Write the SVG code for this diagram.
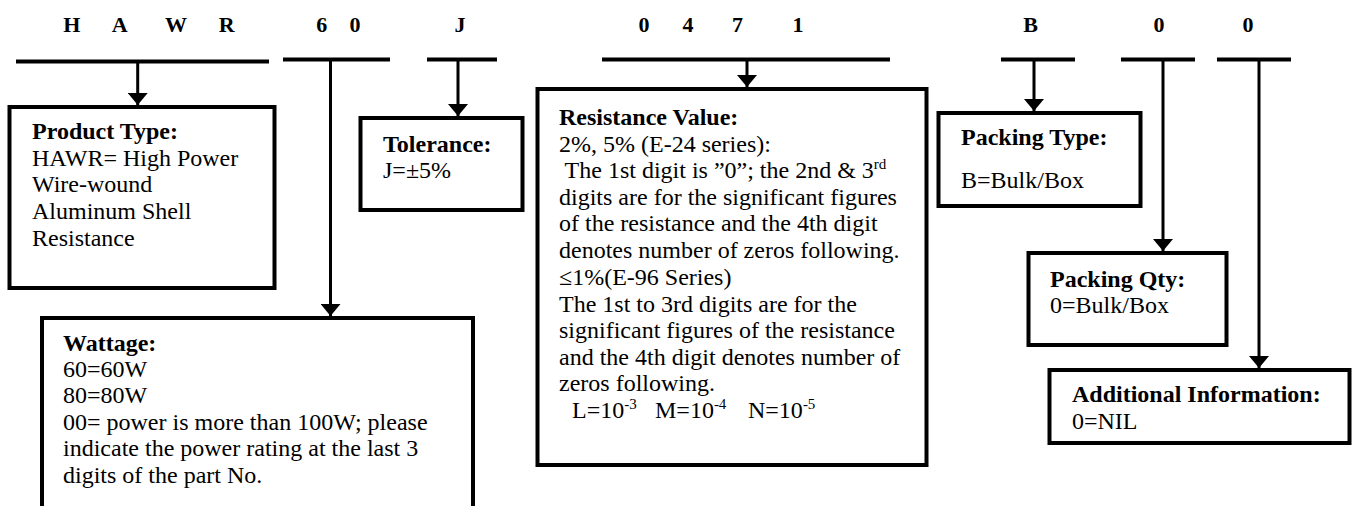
<svg xmlns="http://www.w3.org/2000/svg" width="1354" height="506" viewBox="0 0 1354 506">
<style>
text{font-family:"Liberation Serif","Times New Roman",serif;fill:#000;}
.lbl{font-size:22px;font-weight:bold;text-anchor:middle;}
.t{font-size:24px;}
.b{font-weight:bold;}
.sup{font-size:15px;}
.box{fill:#fff;stroke:#000;stroke-width:4;}
.bar{stroke:#000;stroke-width:4;fill:none;}
.wire{stroke:#000;stroke-width:3;fill:none;marker-end:url(#ah);}
</style>
<defs>
<marker id="ah" markerUnits="userSpaceOnUse" viewBox="0 0 12 20" refX="12" refY="10" markerWidth="12" markerHeight="20" orient="auto">
<path d="M0,0 L12,10 L0,20 z" fill="#000"/>
</marker>
</defs>
<rect width="1354" height="506" fill="#fff"/>
<g id="code-labels">
<text class="lbl" x="71.7" y="31.5">H</text>
<text class="lbl" x="119.7" y="31.5">A</text>
<text class="lbl" x="176" y="31.5">W</text>
<text class="lbl" x="226.7" y="31.5">R</text>
<text class="lbl" x="321.7" y="31.5">6</text>
<text class="lbl" x="355" y="31.5">0</text>
<text class="lbl" x="460" y="31.5">J</text>
<text class="lbl" x="644" y="31.5">0</text>
<text class="lbl" x="688" y="31.5">4</text>
<text class="lbl" x="737.5" y="31.5">7</text>
<text class="lbl" x="798" y="31.5">1</text>
<text class="lbl" x="1030.5" y="31.5">B</text>
<text class="lbl" x="1159" y="31.5">0</text>
<text class="lbl" x="1248" y="31.5">0</text>
</g>
<g id="bars">
<line class="bar" x1="16" y1="61.5" x2="269" y2="61.5"/>
<line class="bar" x1="283" y1="59.5" x2="390" y2="59.5"/>
<line class="bar" x1="427" y1="59.5" x2="497" y2="59.5"/>
<line class="bar" x1="602" y1="59.5" x2="890" y2="59.5"/>
<line class="bar" x1="1001" y1="59.5" x2="1075" y2="59.5"/>
<line class="bar" x1="1121" y1="59.5" x2="1195" y2="59.5"/>
<line class="bar" x1="1217" y1="59.5" x2="1291" y2="59.5"/>
</g>
<g id="product-type">
<rect class="box" x="9.5" y="107" width="265" height="181"/>
<text class="t b" x="32" y="139">Product Type:</text>
<text class="t" x="32" y="166">HAWR= High Power</text>
<text class="t" x="32" y="192">Wire-wound</text>
<text class="t" x="32" y="219">Aluminum Shell</text>
<text class="t" x="32" y="246">Resistance</text>
</g>
<g id="wattage">
<rect class="box" x="42" y="318" width="431" height="220"/>
<text class="t b" x="63" y="351">Wattage:</text>
<text class="t" x="63" y="377">60=60W</text>
<text class="t" x="63" y="403">80=80W</text>
<text class="t" x="63" y="430">00= power is more than 100W; please</text>
<text class="t" x="63" y="456">indicate the power rating at the last 3</text>
<text class="t" x="63" y="483">digits of the part No.</text>
</g>
<g id="tolerance">
<rect class="box" x="360.5" y="118" width="162" height="92"/>
<text class="t b" x="383" y="152">Tolerance:</text>
<text class="t" x="383" y="178">J=±5%</text>
</g>
<g id="resistance-value">
<rect class="box" x="537.5" y="89" width="389" height="376"/>
<text class="t b" x="559" y="125">Resistance Value:</text>
<text class="t" x="559" y="152">2%, 5% (E-24 series):</text>
<text class="t" x="559" y="178" xml:space="preserve"> The 1st digit is ”0”; the 2nd &amp; 3<tspan class="sup" dy="-9">rd</tspan></text>
<text class="t" x="559" y="205">digits are for the significant figures</text>
<text class="t" x="559" y="231">of the resistance and the 4th digit</text>
<text class="t" x="559" y="258">denotes number of zeros following.</text>
<text class="t" x="559" y="285">≤1%(E-96 Series)</text>
<text class="t" x="559" y="312">The 1st to 3rd digits are for the</text>
<text class="t" x="559" y="338">significant figures of the resistance</text>
<text class="t" x="559" y="365">and the 4th digit denotes number of</text>
<text class="t" x="559" y="391">zeros following.</text>
<text class="t" x="572" y="418">L=10<tspan class="sup" dy="-9">-3</tspan></text>
<text class="t" x="655" y="418">M=10<tspan class="sup" dy="-9">-4</tspan></text>
<text class="t" x="748" y="418">N=10<tspan class="sup" dy="-9">-5</tspan></text>
</g>
<g id="packing-type">
<rect class="box" x="938.5" y="113" width="202" height="93"/>
<text class="t b" x="961" y="145">Packing Type:</text>
<text class="t" x="961" y="188">B=Bulk/Box</text>
</g>
<g id="packing-qty">
<rect class="box" x="1028.5" y="253" width="198" height="92"/>
<text class="t b" x="1050" y="287">Packing Qty:</text>
<text class="t" x="1050" y="313">0=Bulk/Box</text>
</g>
<g id="additional-info">
<rect class="box" x="1049.5" y="370" width="300" height="73"/>
<text class="t b" x="1072" y="402">Additional Information:</text>
<text class="t" x="1072" y="429">0=NIL</text>
</g>
<g id="connectors">
<line class="wire" x1="137.7" y1="63" x2="137.7" y2="105"/>
<line class="wire" x1="330.5" y1="61" x2="330.5" y2="316"/>
<line class="wire" x1="458" y1="61" x2="458" y2="116"/>
<line class="wire" x1="747" y1="61" x2="747" y2="87"/>
<line class="wire" x1="1034" y1="61" x2="1034" y2="111"/>
<line class="wire" x1="1163" y1="61" x2="1163" y2="251"/>
<line class="wire" x1="1259" y1="61" x2="1259" y2="368"/>
</g>
</svg>
